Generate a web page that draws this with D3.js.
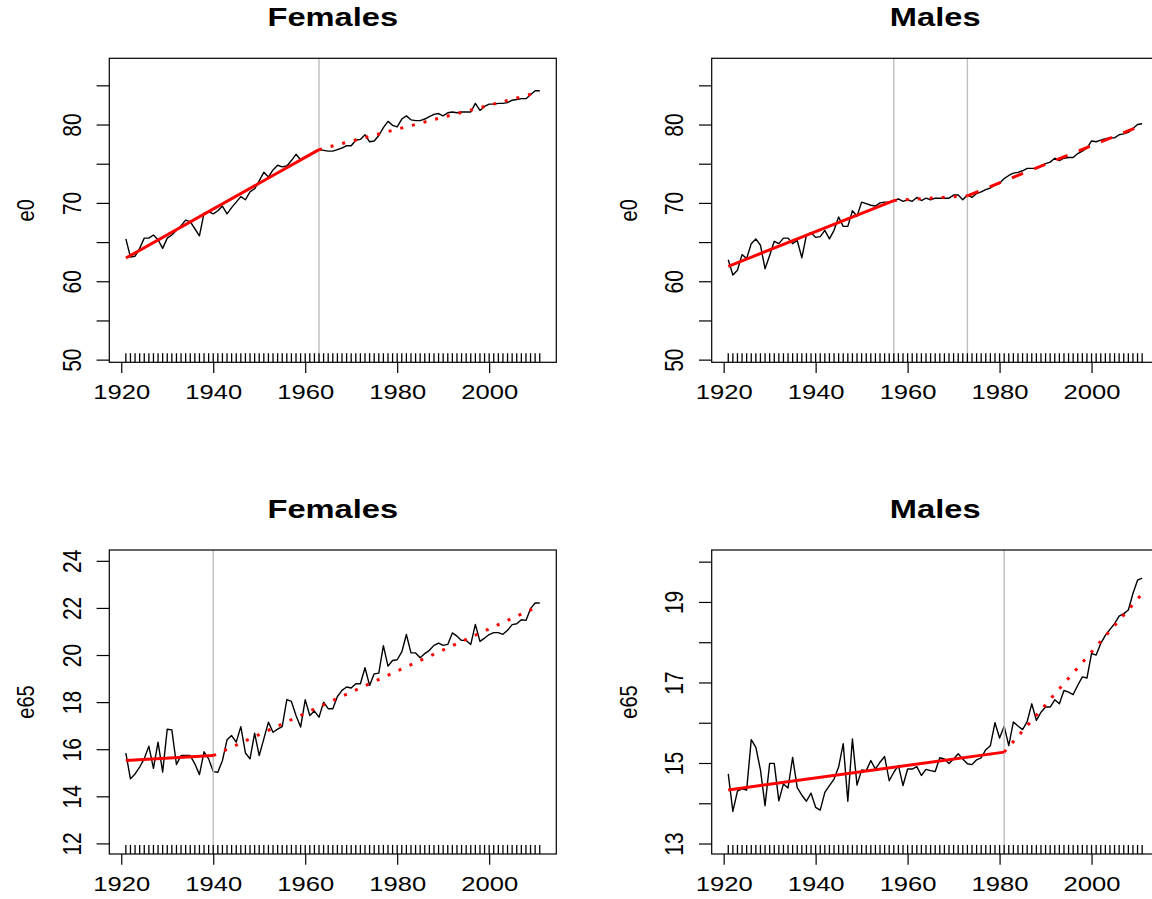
<!DOCTYPE html>
<html>
<head>
<meta charset="utf-8">
<script src="https://cdn.jsdelivr.net/npm/d3@7"></script>
<style>
  body { margin: 0; background: #fff; }
  svg { display: block; }
</style>
</head>
<body>
<svg id="chart" width="1152" height="899"></svg>
<script>
// ---- data ----
var years = d3.range(1921, 2012);

var femaleE0 = [
  65.4, 63.1, 63.2, 64.2, 65.5, 65.5, 65.9, 65.3, 64.2, 65.5,
  65.9, 66.5, 67.1, 67.8, 67.6, 66.7, 65.8, 68.7, 68.9, 68.6,
  69.0, 69.6, 68.6, 69.4, 70.1, 70.8, 70.4, 71.4, 71.8, 72.8,
  73.9, 73.3, 74.2, 74.8, 74.6, 74.7, 75.4, 76.2, 75.5, 75.9,
  76.2, 76.5, 76.8, 76.7, 76.6, 76.6, 76.8, 77.0, 77.3, 77.3,
  78.0, 78.1, 78.7, 77.8, 77.9, 78.6, 79.6, 80.4, 79.9, 79.7,
  80.7, 81.1, 80.6, 80.5, 80.5, 80.7, 81.0, 81.3, 81.4, 81.1,
  81.5, 81.6, 81.5, 81.6, 81.6, 81.6, 82.7, 81.8, 82.3, 82.6,
  82.6, 82.7, 82.7, 82.8, 83.1, 83.2, 83.3, 83.3, 83.8, 84.3,
  84.3
];
var maleE0 = [
  62.75, 60.8, 61.4, 63.4, 62.9, 64.8, 65.4, 64.6, 61.6, 63.3,
  65.1, 64.8, 65.5, 65.5, 64.8, 65.2, 63.0, 65.9, 66.2, 65.6,
  65.7, 66.5, 65.4, 66.5, 68.2, 67.0, 67.0, 69.0, 68.3, 70.1,
  69.9, 69.7, 69.6, 70.0, 70.1, 70.1, 70.3, 70.5, 70.2, 70.4,
  70.2, 70.7, 70.3, 70.6, 70.4, 70.6, 70.6, 70.6, 70.6, 71.0,
  71.0, 70.4, 71.0, 70.7, 71.2, 71.4, 71.7, 71.9, 72.3, 72.5,
  73.1, 73.5, 73.8, 73.9, 74.1, 74.4, 74.4, 74.4, 74.7, 75.0,
  75.2, 75.7, 75.4, 75.7, 75.8, 75.8, 76.3, 76.6, 77.0, 77.9,
  77.8, 78.0, 78.2, 78.3, 78.3, 78.7, 78.8, 79.0, 79.5, 80.0,
  80.1
];
var femaleE65 = [
  15.83, 14.74, 14.95, 15.24, 15.6, 16.13, 15.19, 16.3, 15.03, 16.85,
  16.82, 15.35, 15.73, 15.73, 15.73, 15.38, 14.92, 15.89, 15.59, 15.05,
  15.02, 15.52, 16.4, 16.58, 16.3, 16.96, 15.84, 15.59, 16.68, 15.73,
  16.44, 17.15, 16.72, 16.85, 16.96, 18.11, 18.03, 17.43, 16.94, 18.1,
  17.43, 17.62, 17.36, 18.0, 17.72, 17.72, 18.24, 18.5, 18.64, 18.6,
  18.78, 18.78, 19.46, 18.71, 19.2, 19.23, 20.4, 19.53, 19.77, 19.8,
  20.13, 20.87, 20.09, 20.09, 19.88, 20.06, 20.2, 20.41, 20.51, 20.41,
  20.45, 20.94, 20.8, 20.62, 20.62, 20.45, 21.3, 20.58, 20.72, 20.87,
  20.95, 20.95, 20.88, 21.05, 21.29, 21.33, 21.5, 21.47, 21.97, 22.21,
  22.21
];
var maleE65 = [
  14.73, 13.8, 14.3, 14.36, 14.33, 15.58, 15.39, 14.83, 13.94, 14.99,
  14.99, 14.06, 14.48, 14.38, 15.14, 14.39, 14.2, 14.05, 14.25, 13.9,
  13.83, 14.27, 14.44, 14.6, 14.9, 15.48, 14.05, 15.6, 14.45, 14.83,
  14.81, 15.06, 14.85, 15.02, 15.16, 14.56, 14.77, 14.94, 14.44, 14.85,
  14.85, 14.91, 14.69, 14.84, 14.81, 14.79, 15.13, 15.1, 14.99, 15.1,
  15.23, 15.1, 14.98, 14.96, 15.08, 15.13, 15.33, 15.43, 16.0, 15.62,
  15.91, 15.43, 16.02, 15.92, 15.83, 16.03, 16.47, 16.06, 16.26, 16.39,
  16.39, 16.57, 16.47, 16.8, 16.76, 16.7, 16.93, 17.14, 17.11, 17.72,
  17.68, 17.97, 18.17, 18.32, 18.46, 18.65, 18.71, 18.8, 19.21, 19.54,
  19.59
];

// segmented fits: break years, fitted value at each break, line type per segment
var femaleE0Breaks = [1921, 1963, 2011];
var femaleE0Fit = [62.96, 76.8, 84.15];
var femaleE0Lty = ["solid", "dotted"];

var maleE0Breaks = [1921, 1957, 1973, 2011];
var maleE0Fit = [61.9, 70.3, 70.9, 79.9];
var maleE0Lty = ["solid", "dotted", "dashed"];

var femaleE65Breaks = [1921, 1940, 2011];
var femaleE65Fit = [15.52, 15.73, 22.1];
var femaleE65Lty = ["solid", "dotted"];

var maleE65Breaks = [1921, 1981, 2011];
var maleE65Fit = [14.33, 15.27, 19.2];
var maleE65Lty = ["solid", "dotted"];

// ticks
var xTicks = [1920, 1940, 1960, 1980, 2000];
var e0Ticks = [50, 55, 60, 65, 70, 75, 80, 85];
var e0TickLabels = ["50", "", "60", "", "70", "", "80", ""];
var femaleE65Ticks = [12, 14, 16, 18, 20, 22, 24];
var femaleE65TickLabels = ["12", "14", "16", "18", "20", "22", "24"];
var maleE65Ticks = [13, 14, 15, 16, 17, 18, 19, 20];
var maleE65TickLabels = ["13", "", "15", "", "17", "", "19", ""];

// ---- layout ----
var svg = d3.select("#chart");
var boxW = 447, boxH = 304;
var lefts = [109.3, 711.7], tops = [58.3, 550];
var sx = 1.22; // glyphs in the reference are wider than tall
var font = "'Liberation Sans', Arial, Helvetica, sans-serif";
var dash = { solid: null, dotted: "3 9", dashed: "12 12" };

var panels = [
  { title: "Females", ylab: "e0", values: femaleE0, breaks: femaleE0Breaks, fit: femaleE0Fit, lty: femaleE0Lty,
    yTicks: e0Ticks, yLabels: e0TickLabels, yDomain: [49.66, 88.45], col: 0, row: 0 },
  { title: "Males", ylab: "e0", values: maleE0, breaks: maleE0Breaks, fit: maleE0Fit, lty: maleE0Lty,
    yTicks: e0Ticks, yLabels: e0TickLabels, yDomain: [49.66, 88.45], col: 1, row: 0 },
  { title: "Females", ylab: "e65", values: femaleE65, breaks: femaleE65Breaks, fit: femaleE65Fit, lty: femaleE65Lty,
    yTicks: femaleE65Ticks, yLabels: femaleE65TickLabels, yDomain: [11.55, 24.46], col: 0, row: 1 },
  { title: "Males", ylab: "e65", values: maleE65, breaks: maleE65Breaks, fit: maleE65Fit, lty: maleE65Lty,
    yTicks: maleE65Ticks, yLabels: maleE65TickLabels, yDomain: [12.74, 20.29], col: 1, row: 1 }
];

panels.forEach(function(p, k) {
  var left = lefts[p.col], top = tops[p.row];
  var g = svg.append("g").attr("transform", "translate(" + left + "," + top + ")");

  var x = d3.scaleLinear().domain([1917.4, 2014.6]).range([0, boxW]);
  var y = d3.scaleLinear().domain(p.yDomain).range([boxH, 0]);

  g.append("clipPath").attr("id", "clip" + k)
    .append("rect").attr("width", boxW).attr("height", boxH);

  var plot = g.append("g").attr("clip-path", "url(#clip" + k + ")");

  // data line
  var line = d3.line().x(function(d, i) { return x(years[i]); }).y(function(d) { return y(d); });
  plot.append("path").datum(p.values)
    .attr("d", line).attr("fill", "none")
    .attr("stroke", "#000").attr("stroke-width", 1.4).attr("stroke-linejoin", "round");

  // break lines
  plot.selectAll("line.brk").data(p.breaks.slice(1, -1)).enter().append("line")
    .attr("x1", function(d) { return x(d); }).attr("x2", function(d) { return x(d); })
    .attr("y1", 0).attr("y2", boxH)
    .attr("stroke", "#bebebe").attr("stroke-width", 1.4);

  // fitted segments
  var segs = p.lty.map(function(t, i) {
    return { x0: p.breaks[i], y0: p.fit[i], x1: p.breaks[i + 1], y1: p.fit[i + 1], lty: t };
  });
  plot.selectAll("line.fit").data(segs).enter().append("line")
    .attr("x1", function(d) { return x(d.x0); }).attr("y1", function(d) { return y(d.y0); })
    .attr("x2", function(d) { return x(d.x1); }).attr("y2", function(d) { return y(d.y1); })
    .attr("stroke", "#ff0000").attr("stroke-width", 3)
    .attr("stroke-dasharray", function(d) { return dash[d.lty]; });

  // rug
  g.selectAll("line.rug").data(years).enter().append("line")
    .attr("x1", function(d) { return x(d); }).attr("x2", function(d) { return x(d); })
    .attr("y1", boxH).attr("y2", boxH - 9.1)
    .attr("stroke", "#000").attr("stroke-width", 1.3);

  // x axis
  var xa = g.append("g").attr("transform", "translate(0," + boxH + ")")
    .call(d3.axisBottom(x).tickValues(xTicks).tickSize(10.7).tickSizeOuter(0).tickFormat(d3.format("d")));
  xa.select(".domain").remove();
  xa.selectAll("line").attr("stroke", "#000").attr("stroke-width", 1.2);
  xa.selectAll("text")
    .attr("y", null).attr("dy", null).attr("fill", "#000")
    .attr("font-family", font).attr("font-size", 21)
    .attr("transform", "translate(0,37) scale(" + sx + ",1)");

  // y axis
  var ya = g.append("g")
    .call(d3.axisLeft(y).tickValues(p.yTicks).tickSize(12.7).tickSizeOuter(0)
      .tickFormat(function(d, i) { return p.yLabels[i]; }));
  ya.select(".domain").remove();
  ya.selectAll("line").attr("stroke", "#000").attr("stroke-width", 1.2);
  ya.selectAll("text")
    .attr("x", null).attr("dy", null).attr("fill", "#000")
    .attr("text-anchor", "middle")
    .attr("font-family", font).attr("font-size", 21)
    .attr("transform", "translate(-28.8,0) scale(" + sx + ",1) rotate(-90)");

  // box
  g.append("rect").attr("width", boxW).attr("height", boxH)
    .attr("fill", "none").attr("stroke", "#000").attr("stroke-width", 1.2);

  // title
  g.append("text").text(p.title)
    .attr("text-anchor", "middle").attr("font-family", font)
    .attr("font-weight", "bold").attr("font-size", 25.5)
    .attr("transform", "translate(" + (boxW / 2) + ",-32) scale(1.28,1)");

  // y label
  g.append("text").text(p.ylab)
    .attr("text-anchor", "middle").attr("font-family", font).attr("font-size", 20)
    .attr("transform", "translate(-75," + (boxH / 2) + ") scale(" + sx + ",1) rotate(-90)");
});
</script>
</body>
</html>
